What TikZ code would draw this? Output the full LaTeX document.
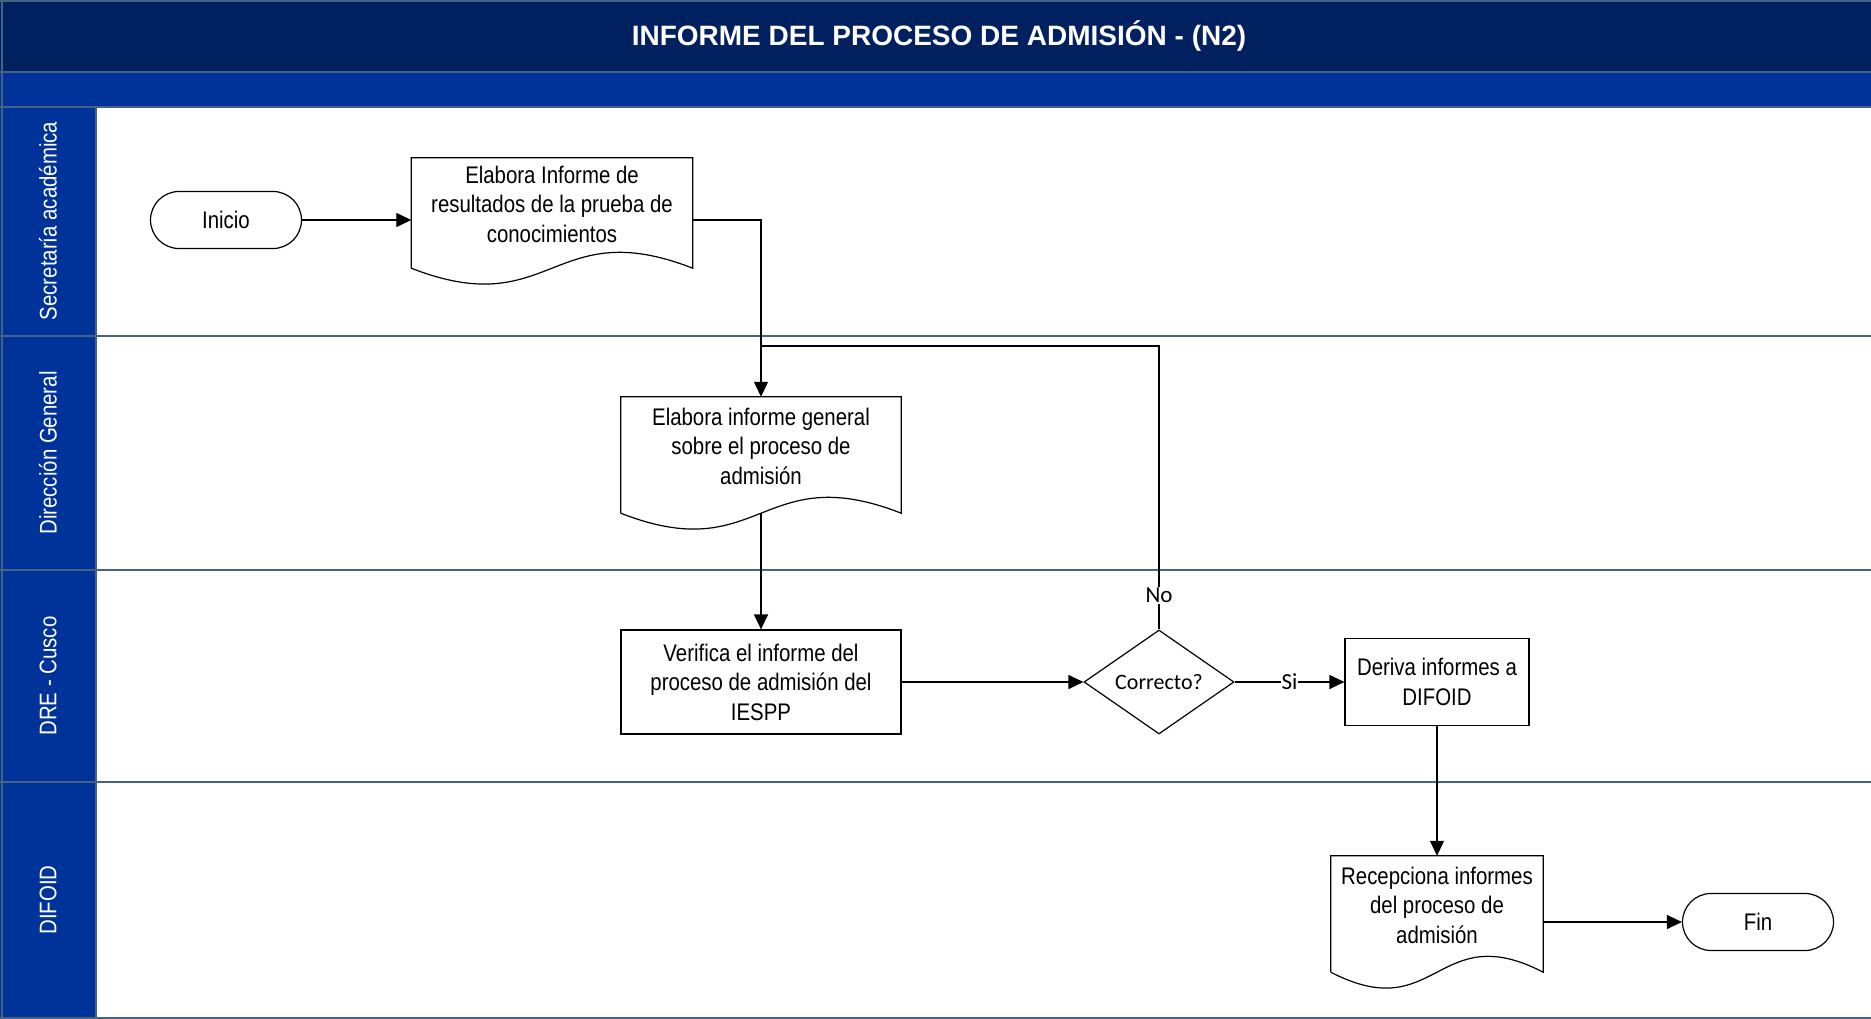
\documentclass[tikz,border=0pt]{standalone}
\usepackage{fontspec}
\setmainfont{Liberation Sans}
\newfontfamily\narrowfont[FakeStretch=0.85]{Liberation Sans}
\newfontfamily\labelfont{Carlito}
\usetikzlibrary{arrows.meta,shapes.geometric,shapes.misc}

\definecolor{titleblue}{RGB}{0,32,96}
\definecolor{bandblue}{RGB}{0,51,153}
\definecolor{laneline}{RGB}{70,100,130}

\tikzset{
  titletext/.style={text=white,font=\bfseries\fontsize{28}{30}\selectfont},
  lanetext/.style={rotate=90,text=white,font=\narrowfont\fontsize{24}{26}\selectfont},
  proc/.style={draw,line width=1.2pt,align=center,inner sep=0pt,font=\narrowfont\fontsize{24}{29.5}\selectfont},
  docu/.style={align=center,inner sep=0pt,font=\narrowfont\fontsize{24}{29.5}\selectfont},
  term/.style={rounded rectangle,draw,line width=1.2pt,minimum width=151pt,minimum height=57pt,inner sep=0pt,font=\narrowfont\fontsize{24}{26}\selectfont},
  decision/.style={diamond,draw,line width=1.2pt,minimum width=150pt,minimum height=104pt,inner sep=0pt,font=\labelfont\fontsize{22}{24}\selectfont},
  flow/.style={-{Triangle[length=15pt,width=14pt]},line width=1.2pt},
  tag/.style={fill=white,inner sep=1pt,font=\labelfont\fontsize{23}{25}\selectfont}
}

% document symbol drawn round a docu node
\newcommand{\docshape}[1]{%
  \draw[line width=1.2pt] ([yshift=-18pt]#1.south west) -- (#1.north west) -- (#1.north east)
    -- ([yshift=-18pt]#1.south east)
    .. controls ([yshift=37pt]#1.south) and ([yshift=-73pt]#1.south) .. ([yshift=-18pt]#1.south west);}

\begin{document}
\begin{tikzpicture}[x=1pt,y=-1pt]
\useasboundingbox (0,0) rectangle (1871,1019);

% bands and lanes
\fill[titleblue] (0,0) rectangle (1871,72);
\fill[bandblue] (0,72) rectangle (1871,107);
\fill[bandblue] (0,107) rectangle (96,1019);
\foreach \y in {1,72,107,336,570,782,1018}
  \draw[laneline,line width=1.5pt] (0,\y) -- (1871,\y);
\draw[laneline,line width=1.5pt] (2,0) -- (2,1019);
\draw[laneline,line width=1.2pt] (96,107) -- (96,1019);

\node[titletext] (title) at (939,36) {INFORME DEL PROCESO DE ADMISIÓN - (N2)};

\node[lanetext] (lane1) at (48,221) {Secretaría académica};
\node[lanetext] (lane2) at (48,453) {Dirección General};
\node[lanetext] (lane3) at (48,676) {DRE - Cusco};
\node[lanetext] (lane4) at (48,900) {DIFOID};

% steps
\node[term] (ini) at (226,220) {Inicio};
\node[docu,minimum width=281pt,minimum height=92pt] (doc1) at (552,204) {Elabora Informe de\\resultados de la prueba de\\conocimientos};
\node[docu,minimum width=280pt,minimum height=98pt] (doc2) at (761,446) {Elabora informe general\\sobre el proceso de\\admisión};
\node[proc,minimum width=280pt,minimum height=104pt] (ver) at (761,682) {Verifica el informe del\\proceso de admisión del\\IESPP};
\node[decision] (dec) at (1159,682) {Correcto?};
\node[proc,minimum width=184pt,minimum height=87pt] (der) at (1437,682) {Deriva informes a\\DIFOID};
\node[docu,minimum width=212pt,minimum height=98pt] (doc3) at (1437,905) {Recepciona informes\\del proceso de\\admisión};
\node[term] (fin) at (1758,922) {Fin};

\docshape{doc1}
\docshape{doc2}
\docshape{doc3}

\coordinate (back) at (761,346);

% connectors
\draw[flow] (ini.east) -- (ini.east -| doc1.west);
\draw[flow] (doc1.east |- ini.east) -| (doc2.north);
\draw[flow] ([yshift=-18pt]doc2.south) -- (ver.north);
\draw[flow] (ver) -- (dec);
\draw[line width=1.2pt] (dec.north) -- node[tag,pos=0.12] {No} (dec.north |- back) -- (back);
\draw[flow] (dec) -- node[tag] {Si} (der);
\draw[flow] (der) -- (doc3);
\draw[flow] (fin.west -| doc3.east) -- (fin.west);
\end{tikzpicture}
\end{document}
